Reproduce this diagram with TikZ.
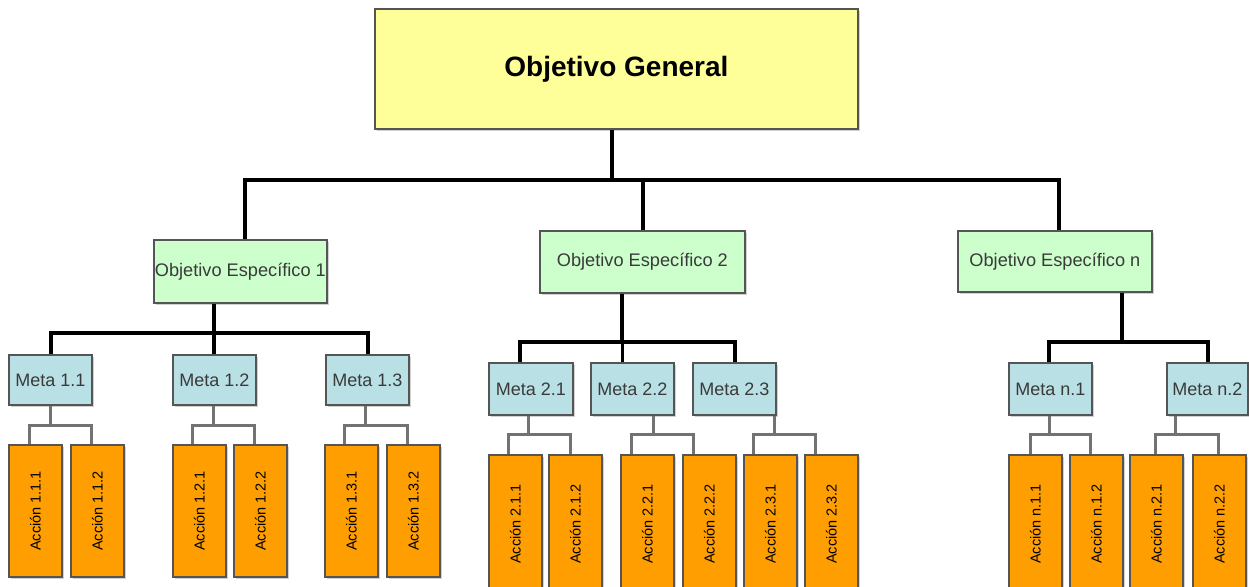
\documentclass[tikz,border=0pt]{standalone}
\usepackage{fontspec}
\setmainfont{Liberation Sans}
\usetikzlibrary{shadows}
\definecolor{genfill}{HTML}{FFFF99}
\definecolor{espfill}{HTML}{CCFFCC}
\definecolor{metafill}{HTML}{B9E0E4}
\definecolor{accfill}{HTML}{FF9E00}
\definecolor{boxline}{HTML}{555555}
\definecolor{txtgray}{HTML}{3A3A3A}
\definecolor{conngray}{HTML}{727272}
\tikzset{
  basebox/.style={draw=boxline, line width=1.8pt, inner sep=0pt, anchor=north west,
    general shadow={fill=black!18, shadow xshift=2.5pt, shadow yshift=-2.5pt}},
  genbox/.style={basebox, fill=genfill, minimum width=483pt, minimum height=120pt,
    font=\fontsize{28}{30}\selectfont\bfseries},
  espbox/.style={basebox, fill=espfill, minimum height=62pt,
    font=\fontsize{18.2}{20}\selectfont, text=txtgray},
  metabox/.style={basebox, fill=metafill, minimum width=83pt,
    font=\fontsize{18}{20}\selectfont, text=txtgray},
  accbox/.style={basebox, fill=accfill, minimum width=53pt},
  acclabel/.style={rotate=90, font=\fontsize{14.5}{16}\selectfont, text=black},
  blk/.style={draw=black, line width=3.5pt},
  gry/.style={draw=conngray, line width=3pt}
}
\begin{document}
\begin{tikzpicture}[x=1pt, y=-1pt]
\clip (0,0) rectangle (1249,586);
\fill[white] (0,0) rectangle (1249,586);

% top
\node[genbox] (og) at (374,8) {Objetivo General};

% specific objectives
\node[espbox, minimum width=173pt, minimum height=63pt] (oe1) at (153,239) {Objetivo Específico 1};
\node[espbox, minimum width=205pt] (oe2) at (539,230) {Objetivo Específico 2};
\node[espbox, minimum width=194pt, minimum height=61pt] (oen) at (957,230) {Objetivo Específico n};

% metas
\node[metabox, minimum height=50pt] (m11) at (8,354) {Meta 1.1};
\node[metabox, minimum height=50pt] (m12) at (172,354) {Meta 1.2};
\node[metabox, minimum height=50pt] (m13) at (325,354) {Meta 1.3};
\node[metabox, minimum height=52pt, minimum width=84pt] (m21) at (488,362) {Meta 2.1};
\node[metabox, minimum height=52pt] (m22) at (590,362) {Meta 2.2};
\node[metabox, minimum height=52pt] (m23) at (692,362) {Meta 2.3};
\node[metabox, minimum height=52pt] (mn1) at (1008,362) {Meta n.1};
\node[metabox, minimum height=52pt, minimum width=81pt] (mn2) at (1166,362) {Meta n.2};

% acciones
\foreach \nm/\x/\y/\h/\t in {
  a111/8/444/132/Acción 1.1.1, a112/70/444/132/Acción 1.1.2,
  a121/172/444/132/Acción 1.2.1, a122/233/444/132/Acción 1.2.2,
  a131/324/444/132/Acción 1.3.1, a132/386/444/132/Acción 1.3.2,
  a211/488/454/138/Acción 2.1.1, a212/548/454/138/Acción 2.1.2,
  a221/620/454/138/Acción 2.2.1, a222/682/454/138/Acción 2.2.2,
  a231/743/454/138/Acción 2.3.1, a232/804/454/138/Acción 2.3.2,
  an11/1008/454/138/Acción n.1.1, an12/1069/454/138/Acción n.1.2,
  an21/1129/454/138/Acción n.2.1, an22/1192/454/138/Acción n.2.2}
{
  \node[accbox, minimum height=\h pt] (\nm) at (\x,\y) {};
  \node[acclabel] (\nm-t) at (\nm.center) {\t};
}

% black connectors: general -> specific
\draw[blk] ([xshift=-4.5]og.south) -- ++(0,52);
\draw[blk] ([xshift=4.5]oe1.north) -- ++(0,-59) -| ([xshift=4]oen.north);
\draw[blk] ([xshift=0.5]oe2.north) -- ++(0,-50);

% specific -> metas
\draw[blk] ([xshift=-26.5]oe1.south) -- ++(0,31);
\draw[blk] ([xshift=0.5]m11.north) -- ++(0,-21) -| ([xshift=0.5]m13.north);
\draw[blk] ([xshift=-0.5]m12.north) -- ++(0,-21);

\draw[blk] ([xshift=-20.5]oe2.south) -- ++(0,50);
\draw[blk] ([xshift=-11]m21.north) -- ++(0,-20) -| ([xshift=0.5]m23.north);
\draw[blk] ([xshift=-10]m22.north) -- ++(0,-20);

\draw[blk] ([xshift=67]oen.south) -- ++(0,51);
\draw[blk] ([xshift=-1.5]mn1.north) -- ++(0,-20) -| ([xshift=0.5]mn2.north);

% metas -> acciones (gray)
\draw[gry] ([xshift=0.5]m11.south) -- ++(0,21);
\draw[gry] ([xshift=-6]a111.north) -- ++(0,-19) -| ([xshift=-5.5]a112.north);
\draw[gry] ([xshift=-0.5]m12.south) -- ++(0,21);
\draw[gry] ([xshift=-6.5]a121.north) -- ++(0,-19) -| ([xshift=-5.5]a122.north);
\draw[gry] ([xshift=-1.5]m13.south) -- ++(0,21);
\draw[gry] ([xshift=-7]a131.north) -- ++(0,-19) -| ([xshift=-5.5]a132.north);

\draw[gry] ([xshift=-2]m21.south) -- ++(0,20);
\draw[gry] ([xshift=-6.5]a211.north) -- ++(0,-20) -| ([xshift=-4.5]a212.north);
\draw[gry] ([xshift=21]m22.south) -- ++(0,20);
\draw[gry] ([xshift=-15.5]a221.north) -- ++(0,-20) -| ([xshift=-15.5]a222.north);
\draw[gry] ([xshift=40.5]m23.south) -- ++(0,20);
\draw[gry] ([xshift=-17]a231.north) -- ++(0,-20) -| ([xshift=-16]a232.north);

\draw[gry] ([xshift=-0.5]mn1.south) -- ++(0,20);
\draw[gry] ([xshift=-4.5]an11.north) -- ++(0,-20) -| ([xshift=-6]an12.north);
\draw[gry] ([xshift=-31.5]mn2.south) -- ++(0,20);
\draw[gry] ([xshift=-0.5]an21.north) -- ++(0,-20) -| ([xshift=-0.5]an22.north);
\end{tikzpicture}
\end{document}
